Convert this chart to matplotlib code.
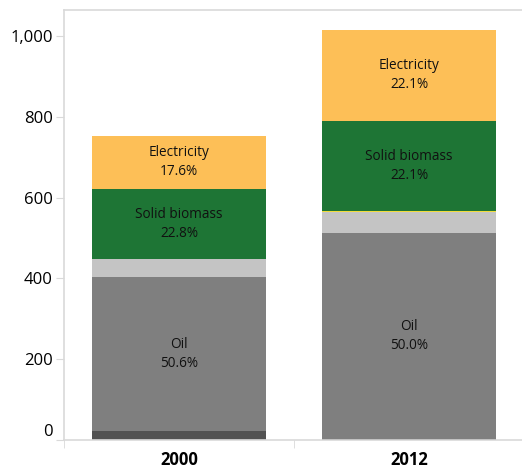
import matplotlib.pyplot as plt
import matplotlib.transforms as mtransforms
import numpy as np

# Stacked segments, bottom to top
years = ['2000', '2012']
other = [22, 3]
oil = [381, 508]
light = [44, 53]
thin = [0, 2]
biomass = [175, 224]
electricity = [131, 225]

labels = {'Oil': ['50.6%', '50.0%'],
          'Solid biomass': ['22.8%', '22.1%'],
          'Electricity': ['17.6%', '22.1%']}

layers = [('Other', other, '#525252'),
          ('Oil', oil, '#7f7f7f'),
          ('Gas', light, '#c4c4c4'),
          ('Heat', thin, '#f2dc3c'),
          ('Solid biomass', biomass, '#1e7535'),
          ('Electricity', electricity, '#fdbf57')]

plt.rcParams['font.family'] = ['Open Sans', 'DejaVu Sans']

fig = plt.figure(figsize=(5.22, 4.70), dpi=100)
ax = fig.add_axes([64/522, 30/470, 460/522, 430/470])

x = np.arange(len(years))
bottom = np.zeros(len(years))
for name, vals, color in layers:
    vals = np.array(vals, dtype=float)
    ax.bar(x, vals, width=0.757, bottom=bottom, color=color, linewidth=0)
    if name in labels:
        for i in range(len(years)):
            ax.text(x[i], bottom[i] + vals[i] / 2, name + '\n' + labels[name][i],
                    ha='center', va='center', fontsize=9.8, color='#111111',
                    linespacing=1.4)
    bottom += vals

ax.set_xlim(-0.5, 1.5)
ax.set_ylim(0, 1064)
ax.set_yticks([0, 200, 400, 600, 800, 1000])
ax.set_yticklabels(['0', '200', '400', '600', '800', '1,000'], fontsize=12)
ax.set_xticks(x)
ax.set_xticklabels(years, fontsize=12, fontweight='bold')
ax.tick_params(axis='x', length=0, pad=8)
ax.tick_params(axis='y', length=6, color='#d9d9d9', pad=2)

# category separators on x axis
ax.set_xticks([-0.5, 0.5, 1.5], minor=True)
ax.tick_params(axis='x', which='minor', length=6, color='#d9d9d9', direction='out')

# "0" label sits a bit above its tick
lab0 = ax.get_yticklabels()[0]
lab0.set_transform(lab0.get_transform() +
                   mtransforms.ScaledTranslation(0, 10/100, fig.dpi_scale_trans))

for side in ['left', 'bottom', 'top']:
    ax.spines[side].set_color('#d9d9d9')
    ax.spines[side].set_linewidth(1.2)
ax.spines['right'].set_visible(False)

fig.savefig('out.png', dpi=100)
